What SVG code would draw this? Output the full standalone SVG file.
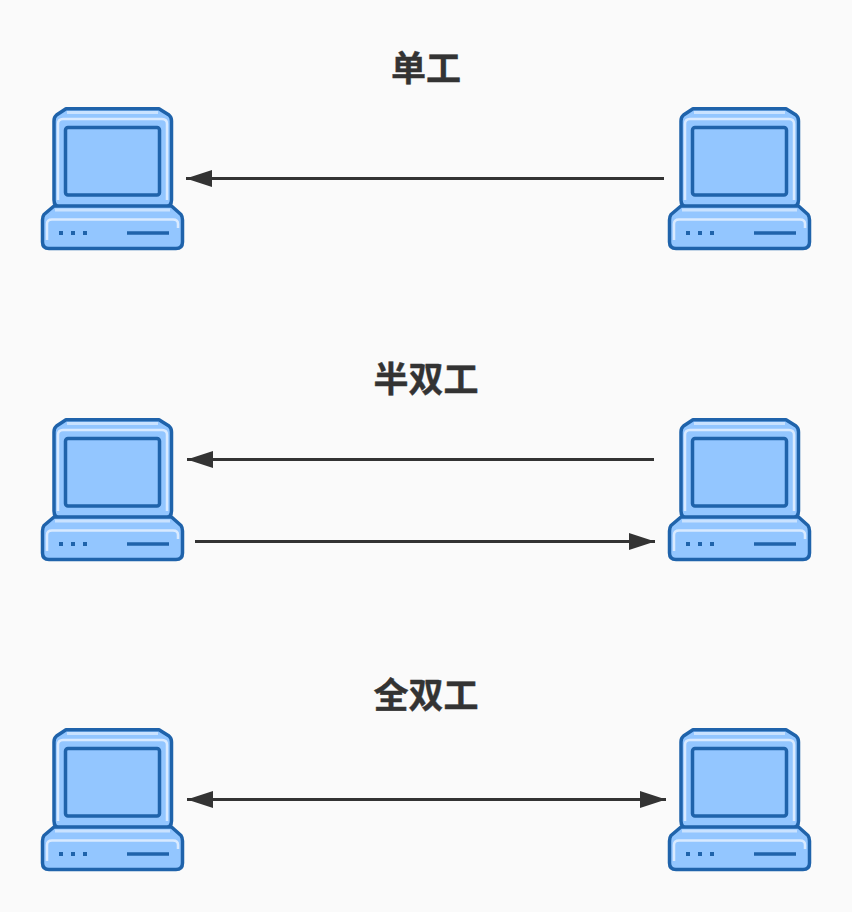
<svg xmlns="http://www.w3.org/2000/svg" width="852" height="912" viewBox="0 0 852 912">
<style>
.t{font-family:"Noto Sans CJK SC","Liberation Sans",sans-serif;font-size:35px;font-weight:700;fill:#333;stroke:#333;stroke-width:.4;text-anchor:middle}
.c{stroke:#333;stroke-width:3;fill:none}
.o{stroke:#1f63ab;stroke-width:3.500;stroke-linejoin:round;fill:#93c6ff}
.h{stroke:#d9eaff;stroke-width:2.500;fill:none}
.d{fill:#1f63ab}
.l{stroke:#1f63ab;stroke-width:3.500;fill:none}
</style>
<defs>
<marker id="a" markerUnits="userSpaceOnUse" markerWidth="27" markerHeight="18" refX="26" refY="9" orient="auto-start-reverse"><path d="M0 .5L26 9L0 17.500Z" fill="#333"/></marker>
<g id="pc">
<path class="o" d="M66 108.700H159L169 115Q171.500 117 171.500 121V200Q171.500 207 164.500 207H60.500Q54 207 54 200V121Q54 117 56.500 115Z"/>
<path d="M67 112.500H158" stroke="#c9e2ff" stroke-width="3" fill="none"/>
<path class="h" d="M58 200V124Q58 119 63 119H162Q167 119 167 124V200"/>
<rect class="o" x="65.500" y="127.500" width="94" height="67.500" rx="2.500"/>
<path class="o" d="M54 206L44 214.500Q42.500 216.500 42.500 220V242Q42.500 248.500 49 248.500H176Q182.500 248.500 182.500 242V220Q182.500 216.500 181 214.500L171.500 206Z"/>
<path d="M55 210H170" stroke="#c9e2ff" stroke-width="3" fill="none"/>
<path class="h" d="M47 240V224Q47 219.500 52 219.500H173Q178 219.500 178 224V228"/>
<rect class="d" x="59" y="231" width="4" height="4"/><rect class="d" x="71" y="231" width="4" height="4"/><rect class="d" x="83" y="231" width="4" height="4"/>
<path class="l" d="M127 233H169"/>
</g>
</defs>
<rect width="852" height="912" fill="#fafafa"/>
<text class="t" x="426" y="81">单工</text>
<text class="t" x="426" y="392">半双工</text>
<text class="t" x="426" y="708">全双工</text>
<g id="pc-1-left"><use href="#pc"/></g>
<g id="pc-1-right"><use href="#pc" x="627"/></g>
<g id="pc-2-left"><use href="#pc" y="311"/></g>
<g id="pc-2-right"><use href="#pc" x="627" y="311"/></g>
<g id="pc-3-left"><use href="#pc" y="621"/></g>
<g id="pc-3-right"><use href="#pc" x="627" y="621"/></g>
<g id="connectors">
<path class="c" marker-end="url(#a)" d="M664 178.500H186"/>
<path class="c" marker-end="url(#a)" d="M654 459.500H187"/>
<path class="c" marker-end="url(#a)" d="M195 541.500H655"/>
<path class="c" marker-start="url(#a)" marker-end="url(#a)" d="M187 799.500H666"/>
</g>
</svg>
